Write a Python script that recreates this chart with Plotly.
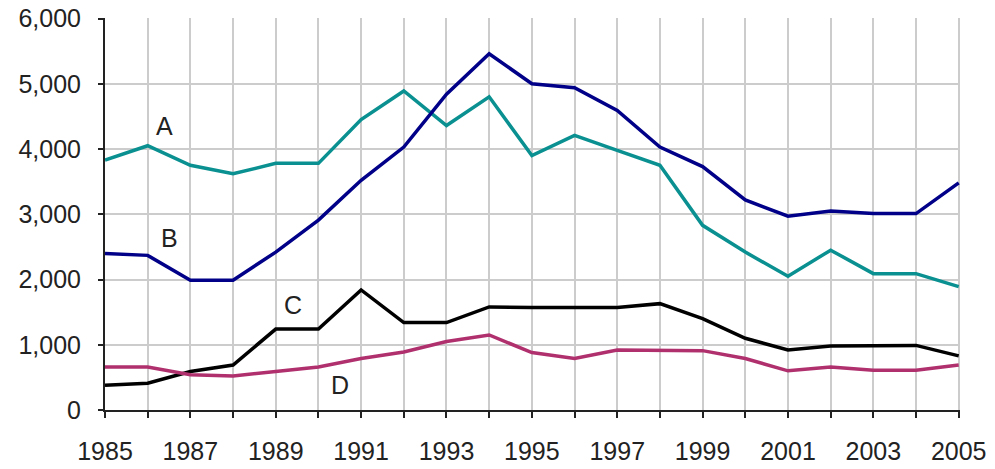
import plotly.graph_objects as go

years = list(range(1985, 2006))
series_a = [3830, 4050, 3750, 3620, 3780, 3780, 4450, 4890, 4360, 4800, 3900, 4210, 3980, 3750, 2830, 2420, 2050, 2450, 2090, 2090, 1890]
series_b = [2400, 2370, 1990, 1990, 2420, 2910, 3520, 4030, 4840, 5460, 5000, 4940, 4590, 4030, 3730, 3220, 2970, 3050, 3010, 3010, 3480]
series_c = [380, 410, 590, 690, 1240, 1240, 1840, 1340, 1340, 1580, 1570, 1570, 1570, 1630, 1400, 1100, 920, 980, 990, 990, 830]
series_d = [660, 660, 540, 520, 590, 660, 790, 890, 1050, 1150, 880, 790, 920, 920, 910, 790, 600, 660, 610, 610, 690]

names = ["A", "B", "C", "D"]
colors = ["#0A9090", "#000088", "#000000", "#B0306E"]
label_x = [1986.4, 1986.5, 1989.4, 1990.5]
label_y = [4360, 2630, 1610, 380]

y_ticks = [0, 1000, 2000, 3000, 4000, 5000, 6000]
y_text = ["0", "1,000", "2,000", "3,000", "4,000", "5,000", "6,000"]
x_text = [str(y) if (y - 1985) % 2 == 0 else "" for y in years]

fig = go.Figure()
for vals, name, col in zip([series_a, series_b, series_c, series_d], names, colors):
    fig.add_trace(go.Scatter(x=years, y=vals, mode="lines", name=name,
                             line=dict(color=col, width=3.5), showlegend=False, cliponaxis=False))

for name, lx, ly in zip(names, label_x, label_y):
    fig.add_annotation(x=lx, y=ly, text=name, showarrow=False,
                       font=dict(size=25, color="#222222", family="Liberation Sans, Arial"))

fig.update_layout(
    width=987, height=461,
    margin=dict(l=97, r=35, t=10, b=59, autoexpand=False),
    plot_bgcolor="white", paper_bgcolor="white",
    font=dict(family="Liberation Sans, Arial", size=25, color="#222222"),
)
fig.update_xaxes(range=[1985, 2005.03], tickmode="array", tickvals=years, ticktext=x_text,
                 showgrid=True, gridcolor="#cccccc", gridwidth=2,
                 showline=True, linecolor="#222222", linewidth=2,
                 ticks="outside", ticklen=6, tickcolor="#222222", tickwidth=2,
                 zeroline=False, ticklabelstandoff=12, automargin=False,
                 ticklabeloverflow="allow")
fig.update_yaxes(range=[0, 6008], tickmode="array", tickvals=y_ticks, ticktext=y_text,
                 showgrid=True, gridcolor="#cccccc", gridwidth=2,
                 showline=True, linecolor="#222222", linewidth=2,
                 ticks="outside", ticklen=5, tickcolor="#222222", tickwidth=2,
                 zeroline=False, ticklabelstandoff=12, automargin=False,
                 ticklabeloverflow="allow")

fig.write_html("out.html")
